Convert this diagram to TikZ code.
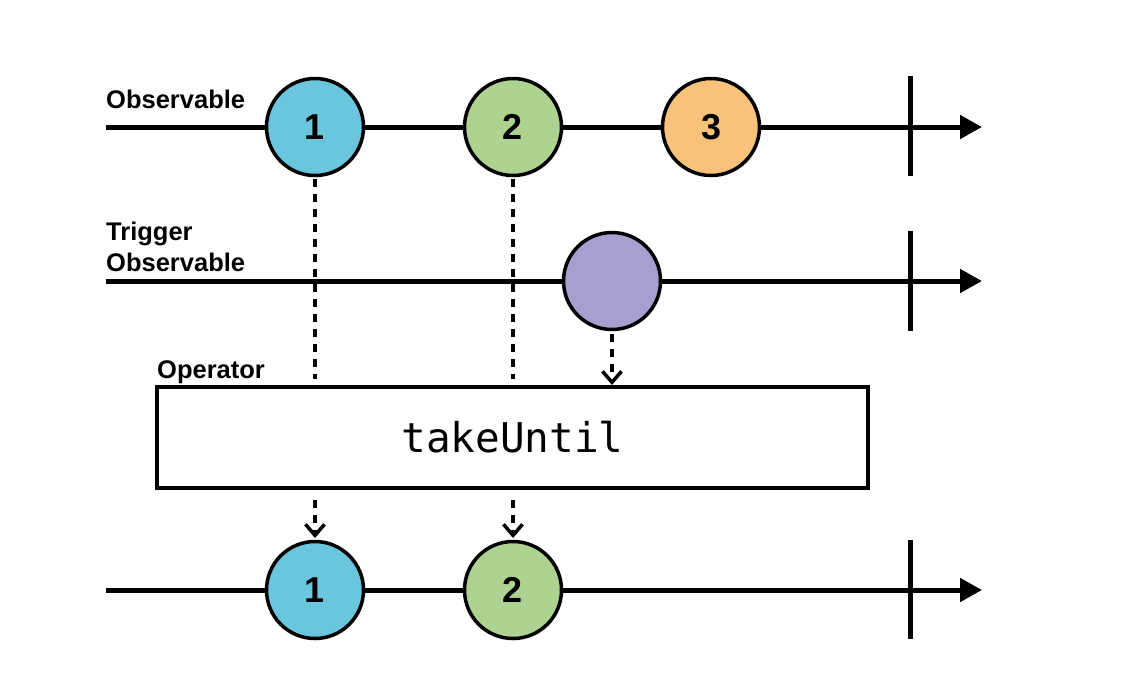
\documentclass[tikz,border=0pt]{standalone}
\usepackage{fontspec}
\setmainfont{Liberation Sans}
\newfontfamily\monofont{DejaVu Sans Mono}
\usetikzlibrary{arrows.meta}
\definecolor{cblue}{HTML}{6AC6DC}
\definecolor{cgreen}{HTML}{AED391}
\definecolor{corange}{HTML}{F9C27A}
\definecolor{cpurple}{HTML}{A79FCF}
\begin{document}
\begin{tikzpicture}[x=1pt,y=-1pt,
  timeline/.style={line width=5pt,-{Triangle[length=22pt,width=23pt]}},
  endbar/.style={line width=5pt},
  marble/.style={circle,draw=black,line width=3.5pt,minimum size=97pt,inner sep=0pt,
    font=\fontsize{36}{36}\selectfont\bfseries},
  dashconn/.style={line width=3.5pt,dash pattern=on 8pt off 7pt},
  dasharrow/.style={dashconn,-{Straight Barb[length=11pt,width=19pt,line width=3.5pt]}},
  lbl/.style={font=\fontsize{25.5}{31}\selectfont\bfseries,inner sep=0pt,anchor=south west},
]
\useasboundingbox[fill=white] (0,0) rectangle (1123,681);

% timelines
\coordinate (s1) at (106,127); \coordinate (e1) at (982,127);
\coordinate (s2) at (106,281); \coordinate (e2) at (982,281);
\coordinate (s3) at (106,590); \coordinate (e3) at (982,590);
\draw[timeline] (s1) -- (e1);
\draw[timeline] (s2) -- (e2);
\draw[timeline] (s3) -- (e3);
\coordinate (b1t) at (910,76); \coordinate (b1b) at (910,176);
\coordinate (b2t) at (910,231); \coordinate (b2b) at (910,331);
\coordinate (b3t) at (910,540); \coordinate (b3b) at (910,639);
\draw[endbar] (b1t) -- (b1b);
\draw[endbar] (b2t) -- (b2b);
\draw[endbar] (b3t) -- (b3b);

% labels
\node[lbl] (lobs) at (106,109) {Observable};
\node[lbl,align=left] (ltrig) at (106,272) {Trigger\\Observable};
\node[lbl] (lop) at (157,384) {Operator};

% operator box
\node[draw=black,line width=3.5pt,minimum width=711pt,minimum height=101pt,inner sep=0pt,
  font=\monofont\fontsize{41}{41}\selectfont] (op) at (512.5,437.5) {takeUntil};

% marbles
\node[marble,fill=cblue] (m1) at (315,127) {1};
\node[marble,fill=cgreen] (m2) at (513,127) {2};
\node[marble,fill=corange] (m3) at (711,127) {3};
\node[marble,fill=cpurple] (t1) at (612,281) {};
\node[marble,fill=cblue] (r1) at (315,590) {1};
\node[marble,fill=cgreen] (r2) at (513,590) {2};

% dashed connectors
\coordinate (d1) at (315,379);
\coordinate (d2) at (513,379);
\draw[dashconn] (m1.south) ++(0,2) -- (d1);
\draw[dashconn] (m2.south) ++(0,2) -- (d2);
\coordinate (tp) at (612,385);
\draw[dasharrow] (t1.south) ++(0,3) -- (tp);
\coordinate (a1) at (315,538);
\coordinate (a2) at (513,538);
\draw[dasharrow] (op.south -| a1) ++(0,10) -- (a1);
\draw[dasharrow] (op.south -| a2) ++(0,10) -- (a2);
\end{tikzpicture}
\end{document}
